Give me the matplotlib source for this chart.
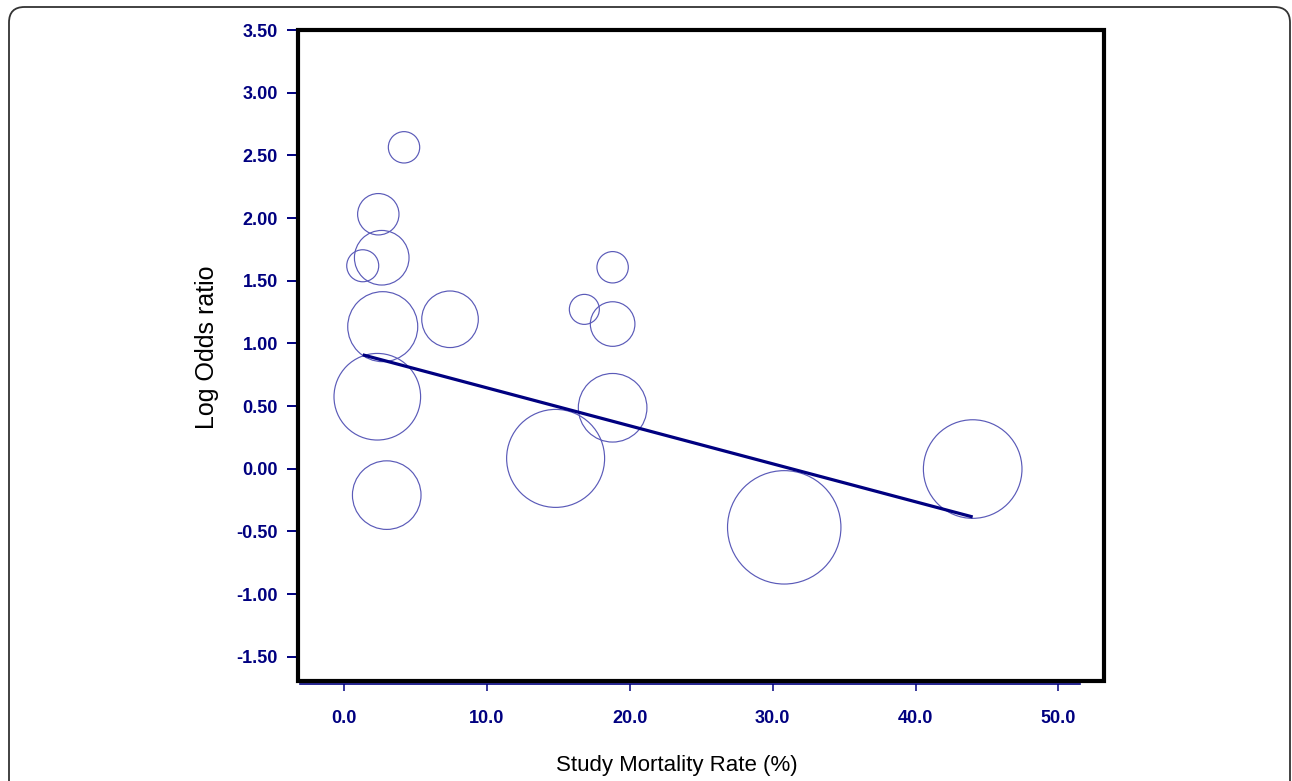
import numpy as np
import matplotlib
matplotlib.use("Agg")
import matplotlib.pyplot as plt
from matplotlib.patches import Rectangle, FancyBboxPatch

plt.rcParams['font.family'] = ['Liberation Sans', 'DejaVu Sans']

# ---- data ----
mortality = [4.20, 2.40, 2.64, 1.31, 2.71, 7.42, 2.33, 2.99,
             16.82, 18.80, 18.80, 18.80, 14.81, 30.81, 44.00]
log_or = [2.564, 2.030, 1.683, 1.619, 1.133, 1.192, 0.574, -0.211,
          1.271, 1.607, 1.154, 0.486, 0.082, -0.468, -0.003]
weights = [24.6, 42.8, 74.5, 25.6, 122.5, 80.0, 187.5, 117.6,
           22.5, 24.6, 49.7, 117.6, 240.0, 321.5, 243.0]
reg_intercept = 0.948
reg_slope = -0.0303
x_ticks = [0, 10, 20, 30, 40, 50]
y_ticks = [-1.5, -1.0, -0.5, 0.0, 0.5, 1.0, 1.5, 2.0, 2.5, 3.0, 3.5]

W, H = 1292, 781
fig = plt.figure(figsize=(W / 100, H / 100), dpi=100)
fig.patch.set_facecolor('white')

# outer rounded frame
frame = FancyBboxPatch((9 / W, -0.05), (1290 - 9) / W, (H - 7) / H + 0.05,
                       boxstyle="round,pad=0,rounding_size=0.012",
                       transform=fig.transFigure, fill=False,
                       ec='#333333', lw=1.3, mutation_aspect=W / H)
fig.add_artist(frame)

ax = fig.add_axes([298 / W, 1 - 681 / H, 806 / W, 651 / H])
ax.set_xlim(-3.22, 53.19)
ax.set_ylim(-1.694, 3.50)

navy = '#000080'
for s in ['top', 'right', 'left']:
    ax.spines[s].set_visible(False)
ax.spines['bottom'].set_color(navy)
ax.spines['bottom'].set_linewidth(1.2)
ax.spines['bottom'].set_position(('outward', 2.5))
ax.spines['bottom'].set_bounds(-3.1, 51.5)

ax.add_patch(Rectangle((0, 0), 1, 1, transform=ax.transAxes, fill=False,
                       ec='black', lw=3.0, clip_on=False, zorder=5))

# bubbles
sizes = [20.736 * w for w in weights]
ax.scatter(mortality, log_or, s=sizes, facecolors='none',
           edgecolors='#5a5ab8', linewidths=0.85, zorder=3, clip_on=False)

# regression line
xl = np.array([min(mortality), max(mortality)])
ax.plot(xl, reg_intercept + reg_slope * xl, color=navy, lw=2.3, zorder=4,
        solid_capstyle='butt')

ax.set_xticks(x_ticks)
ax.set_xticklabels([f"{v:.1f}" for v in x_ticks])
ax.set_yticks(y_ticks)
ax.set_yticklabels([f"{v:.2f}" for v in y_ticks])
ax.tick_params(axis='x', direction='out', length=5, width=1.1, color=navy,
               labelcolor=navy, labelsize=13, pad=13.5)
ax.tick_params(axis='y', direction='out', length=8, width=1.4, color=navy,
               labelcolor=navy, labelsize=13, pad=6.5)
for lab in ax.get_xticklabels() + ax.get_yticklabels():
    lab.set_fontweight('bold')

fig.text(677 / W, 1 - 765 / H, "Study Mortality Rate (%)", ha='center',
         va='center', fontsize=16, color='black')
fig.text(207 / W, 1 - 347 / H, "Log Odds ratio", ha='center', va='center',
         rotation=90, fontsize=18, color='black')

fig.savefig("out.png", dpi=100)
